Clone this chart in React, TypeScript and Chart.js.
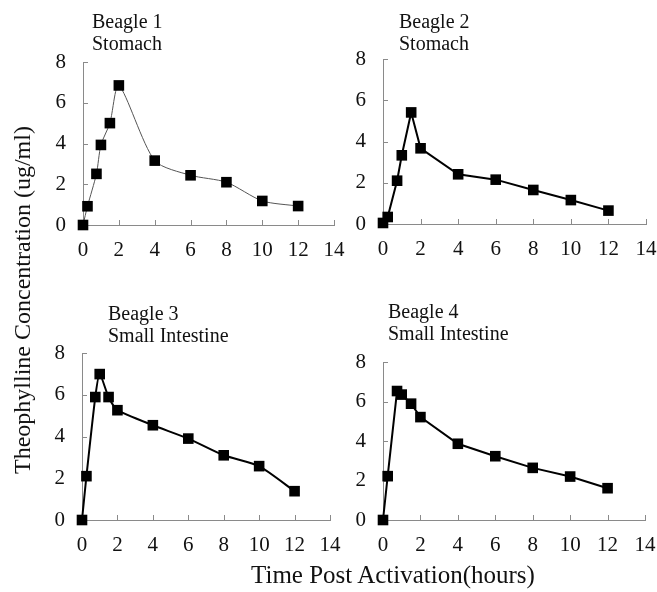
import { useEffect, useRef } from "react";
import { Chart, registerables } from "chart.js";

Chart.register(...registerables);

// ---- data ----
const hours = [0, 0.25, 0.75, 1, 1.5, 2, 4, 6, 8, 10, 12];
const beagle1 = [0, 0.92, 2.51, 3.93, 5.0, 6.85, 3.16, 2.44, 2.1, 1.18, 0.93];
const beagle2 = [0.05, 0.34, 2.1, 3.33, 5.41, 3.67, 2.41, 2.15, 1.65, 1.16, 0.65];
const beagle3 = [0, 2.1, 5.89, 6.99, 5.89, 5.26, 4.54, 3.9, 3.1, 2.58, 1.38];
const beagle4 = [0, 2.22, 6.53, 6.35, 5.89, 5.21, 3.86, 3.23, 2.64, 2.2, 1.61];
const xTicks = [0, 2, 4, 6, 8, 10, 12, 14];
const yTicks = [0, 2, 4, 6, 8];
const titles1 = ["Beagle 1", "Stomach"];
const titles2 = ["Beagle 2", "Stomach"];
const titles3 = ["Beagle 3", "Small Intestine"];
const titles4 = ["Beagle 4", "Small Intestine"];
const yTitle = "Theophylline Concentration (ug/ml)";
const xTitle = "Time Post Activation(hours)";

const FONT = "'Liberation Serif', 'Times New Roman', serif";

const innerTicks = {
  id: "innerTicks",
  beforeDatasetsDraw(chart: any) {
    const { ctx, chartArea, scales } = chart;
    const x = scales.x;
    const y = scales.y;
    ctx.save();
    ctx.strokeStyle = "#8a8a8a";
    ctx.lineWidth = 1;
    ctx.beginPath();
    xTicks.forEach((v) => {
      const px = Math.round(x.getPixelForValue(v)) + 0.5;
      ctx.moveTo(px, chartArea.bottom);
      ctx.lineTo(px, chartArea.bottom - 5);
    });
    yTicks.forEach((v) => {
      const py = Math.round(y.getPixelForValue(v)) + 0.5;
      ctx.moveTo(chartArea.left, py);
      ctx.lineTo(chartArea.left + 5, py);
    });
    ctx.stroke();
    ctx.restore();
  },
};

type PanelProps = {
  ox: number;
  oy: number;
  x14: number;
  y8: number;
  values: number[];
  color: string;
  width: number;
  tension: number;
  titles: string[];
  tLeft: number;
  tTop: number;
};

function Panel(p: PanelProps) {
  const ref = useRef<HTMLCanvasElement>(null);
  const YW = 50;
  const XH = 45;
  const PT = 15;
  const PR = 20;
  const left = Math.round(p.ox - YW);
  const top = Math.round(p.y8 - PT);
  const w = Math.round(p.x14 - p.ox + YW + PR);
  const h = Math.round(p.oy - p.y8 + PT + XH);

  useEffect(() => {
    if (!ref.current) return;
    const chart = new Chart(ref.current, {
      type: "line",
      data: {
        datasets: [
          {
            data: hours.map((t, i) => ({ x: t, y: p.values[i] })),
            borderColor: p.color,
            borderWidth: p.width,
            tension: p.tension,
            pointStyle: "rect",
            pointRadius: 7.5,
            pointBackgroundColor: "#000",
            pointBorderColor: "#000",
            pointBorderWidth: 0,
            clip: false,
            fill: false,
          } as any,
        ],
      },
      options: {
        animation: false,
        responsive: false,
        events: [],
        layout: { padding: { top: PT, right: PR, left: 0, bottom: 0 } },
        plugins: {
          legend: { display: false },
          tooltip: { enabled: false },
          title: { display: false },
        },
        scales: {
          x: {
            type: "linear",
            min: 0,
            max: 14,
            afterFit: (s: any) => {
              s.height = XH;
              s.paddingLeft = 0;
              s.paddingRight = 0;
              s.paddingTop = 0;
              s.paddingBottom = 0;
            },
            afterBuildTicks: (s: any) => {
              s.ticks = xTicks.map((v) => ({ value: v }));
            },
            ticks: {
              stepSize: 2,
              color: "#111",
              padding: 13,
              maxRotation: 0,
              font: { family: FONT, size: 21 },
            },
            grid: { display: true, drawOnChartArea: false, drawTicks: false, color: "rgba(0,0,0,0)" },
            border: { display: true, color: "#8a8a8a", width: 1 },
          },
          y: {
            type: "linear",
            min: 0,
            max: 8,
            afterFit: (s: any) => {
              s.width = YW;
              s.paddingLeft = 0;
              s.paddingRight = 0;
              s.paddingTop = 0;
              s.paddingBottom = 0;
            },
            afterBuildTicks: (s: any) => {
              s.ticks = yTicks.map((v) => ({ value: v }));
            },
            ticks: {
              stepSize: 2,
              color: "#111",
              padding: 17,
              font: { family: FONT, size: 21 },
            },
            grid: { display: true, drawOnChartArea: false, drawTicks: false, color: "rgba(0,0,0,0)" },
            border: { display: true, color: "#8a8a8a", width: 1 },
          },
        },
      },
      plugins: [innerTicks],
    });
    return () => chart.destroy();
  }, []);

  return (
    <>
      <canvas
        ref={ref}
        width={w}
        height={h}
        style={{ position: "absolute", left, top, width: w, height: h }}
      />
      <div
        style={{
          position: "absolute",
          left: p.tLeft,
          top: p.tTop,
          fontFamily: FONT,
          fontSize: 20,
          lineHeight: "22px",
          color: "#111",
          whiteSpace: "nowrap",
        }}
      >
        {p.titles.map((t) => (
          <div key={t}>{t}</div>
        ))}
      </div>
    </>
  );
}

export default function App() {
  return (
    <div
      style={{
        position: "absolute",
        left: 0,
        top: 0,
        width: 657,
        height: 592,
        background: "#fff",
        overflow: "hidden",
      }}
    >
      <Panel ox={82.5} oy={224.3} x14={333} y8={61.7} values={beagle1} color="#555" width={1} tension={0.25} titles={titles1} tLeft={92} tTop={10} />
      <Panel ox={382.7} oy={224.3} x14={645.3} y8={59.3} values={beagle2} color="#000" width={2} tension={0} titles={titles2} tLeft={399} tTop={10} />
      <Panel ox={81.7} oy={519.3} x14={330} y8={352.7} values={beagle3} color="#000" width={2} tension={0.2} titles={titles3} tLeft={108} tTop={302} />
      <Panel ox={382.7} oy={519.3} x14={645} y8={361.7} values={beagle4} color="#000" width={2} tension={0} titles={titles4} tLeft={388} tTop={300} />
      <div
        style={{
          position: "absolute",
          left: 22 - 220,
          top: 300 - 13,
          width: 440,
          height: 26,
          lineHeight: "26px",
          textAlign: "center",
          fontFamily: FONT,
          fontSize: 24,
          color: "#111",
          transform: "rotate(-90deg)",
          transformOrigin: "50% 50%",
          whiteSpace: "nowrap",
        }}
      >
        {yTitle}
      </div>
      <div
        style={{
          position: "absolute",
          left: 393 - 220,
          top: 562,
          width: 440,
          lineHeight: "26px",
          textAlign: "center",
          fontFamily: FONT,
          fontSize: 25,
          color: "#111",
          whiteSpace: "nowrap",
        }}
      >
        {xTitle}
      </div>
    </div>
  );
}
